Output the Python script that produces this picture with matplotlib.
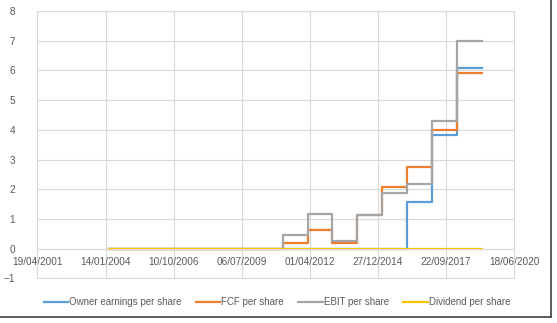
import datetime as dt
import matplotlib
matplotlib.use('Agg')
import matplotlib.pyplot as plt
import matplotlib.dates as mdates
from matplotlib.lines import Line2D

# yearly values, step held until the next date (last value repeated as the end point)
dates = ['2004-02-28', '2005-02-28', '2006-02-28', '2007-02-28', '2008-02-28',
         '2009-02-28', '2010-02-28', '2011-02-28', '2012-02-28', '2013-02-28',
         '2014-02-28', '2015-02-28', '2016-02-28', '2017-02-28', '2018-02-28',
         '2019-02-28']
owner_earnings = [0, 0, 0, 0, 0, 0, 0, 0, 0, 0, 0, 0, 1.57, 3.82, 6.07, 6.07]
fcf = [0, 0, 0, 0, 0, 0, 0, 0.19, 0.64, 0.20, 1.13, 2.07, 2.75, 4.00, 5.93, 5.93]
ebit = [0, 0, 0, 0, 0, 0, 0, 0.45, 1.17, 0.26, 1.15, 1.87, 2.19, 4.31, 6.98, 6.98]
dividend = [0, 0, 0, 0, 0, 0, 0, 0, 0, 0, 0, 0, 0, 0, 0, 0]

series = [
    ('Owner earnings per share', owner_earnings, '#5B9BD5'),
    ('FCF per share', fcf, '#ED7D31'),
    ('EBIT per share', ebit, '#A5A5A5'),
    ('Dividend per share', dividend, '#FFC000'),
]

plt.rcParams['font.family'] = ['Liberation Sans', 'DejaVu Sans']

x = [dt.datetime.strptime(d, '%Y-%m-%d') for d in dates]

fig = plt.figure(figsize=(5.57, 3.23), dpi=100)
ax = fig.add_axes([0.0673, 0.138, 0.8555, 0.8278])

for label, vals, color in series:
    ax.step(x, vals, where='post', color=color, lw=1.6, label=label)

x0 = dt.datetime(2001, 4, 19)
ticks = [x0 + dt.timedelta(days=1000 * i) for i in range(8)]
ax.set_xlim(ticks[0], ticks[-1])
ax.set_xticks(ticks)
ax.xaxis.set_major_formatter(mdates.DateFormatter('%d/%m/%Y'))
ax.set_ylim(-1, 8)
ax.set_yticks(range(-1, 9))

grid_c = '#D9D9D9'
ax.set_axisbelow(True)
ax.grid(color=grid_c, lw=0.8)
for s in ['left', 'right', 'top']:
    ax.spines[s].set_color(grid_c)
    ax.spines[s].set_linewidth(0.8)
ax.spines['bottom'].set_position(('data', 0))
ax.spines['bottom'].set_color(grid_c)
ax.spines['bottom'].set_linewidth(0.8)
ax.axhline(-1, color=grid_c, lw=0.8, clip_on=False, zorder=0)

ax.tick_params(axis='x', length=0, pad=6, labelsize=7.2, labelcolor='#595959')
ax.tick_params(axis='y', length=0, pad=16, labelsize=7.2, labelcolor='#595959')

fig.legend(loc='center', bbox_to_anchor=(0.497, 0.065), ncol=4, frameon=False,
           fontsize=7, handlelength=2.5, handletextpad=0.1, columnspacing=1.5,
           labelcolor='#595959')

# chart border (right and bottom edges visible in the original)
fig.add_artist(Line2D([0.9892, 0.9892], [0.018, 1.0], transform=fig.transFigure,
                      color='#404040', lw=1.2))
fig.add_artist(Line2D([0.0, 0.9892], [0.018, 0.018], transform=fig.transFigure,
                      color='#404040', lw=1.2))

fig.savefig('out.png', dpi=100)
